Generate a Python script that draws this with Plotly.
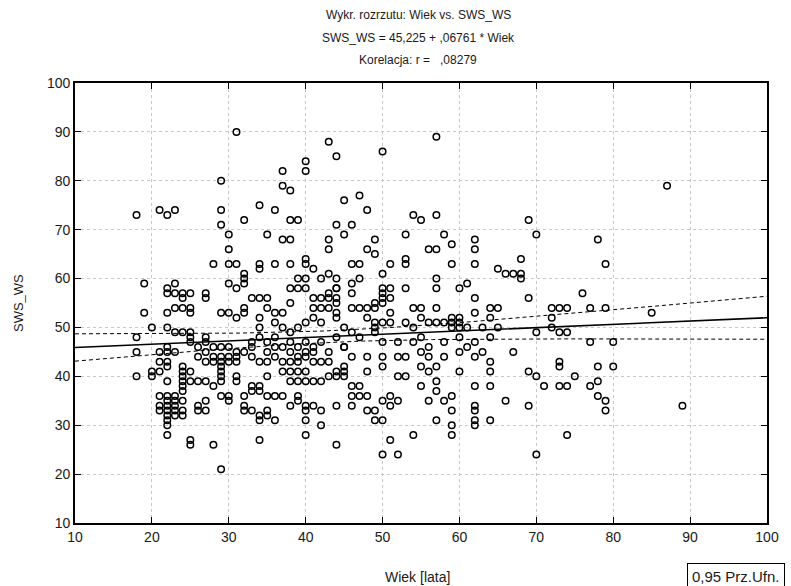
import numpy as np
import plotly.graph_objects as go

# Wiek [lata] and SWS_WS for each respondent
wiek = [
    18, 21, 22, 23, 31, 29, 29, 29, 30, 30, 32, 34, 35, 36, 37, 37, 38, 38, 39, 37, 38, 40, 40, 43, 44, 45, 44, 45, 43, 43,
    50, 57, 47, 48, 46, 49, 48, 54, 55, 57, 53, 58, 59, 56, 57, 62, 62, 69, 70,
    87, 78, 79, 76, 74, 77, 79, 72,
    85, 73, 74, 77, 80, 73, 73, 78, 80, 73, 74, 75, 77, 78, 78, 79, 79, 89, 74,
    49, 47, 50, 51, 53, 53, 59, 62, 65, 66, 67, 68, 68, 68, 44, 47, 46, 46, 44, 50, 50, 50, 50, 51, 51, 53, 57, 57, 60, 61,
    69, 46, 47, 48, 49, 49, 51, 54, 55, 57, 64, 65, 73, 48, 49, 50, 51, 53, 54, 55, 56, 57, 58, 59, 59, 60, 60, 59, 60, 61,
    64, 72, 72, 70, 45, 46, 49, 49, 55, 60, 62, 64, 45, 50, 48, 46, 50, 52, 53, 55, 56, 58, 60, 62, 67, 45,
    48, 50, 52, 53, 55, 56, 57, 60, 64, 64, 69, 70, 71, 44, 45, 46, 47, 46, 47, 48, 55, 57, 57, 59, 62, 64, 51, 44, 46, 50,
    51, 52, 56, 58, 59, 62, 62, 66, 69, 48, 49, 49, 50, 57, 64, 62, 62, 59, 59, 54, 51, 44, 50, 52, 70,
    28, 30, 31, 32, 34, 34, 36, 38, 40, 40, 41, 30, 31, 32, 32, 19, 22, 22, 23, 23, 24, 25, 24, 27, 27, 19, 22, 23, 24, 25,
    25, 29, 30, 31, 32, 32, 33, 34, 35, 35, 36, 38, 37, 34, 39, 40, 40, 39, 38, 42, 43, 43, 41, 42, 43, 41, 42, 43, 44, 44,
    44, 41, 42, 40, 39, 38, 36, 37, 34, 34, 35, 36, 33, 38, 40, 42, 43, 44, 20, 18, 18, 22, 23, 24, 25, 25, 25, 27, 27,
    18, 20, 20, 21, 22, 21, 22, 23, 22, 23, 22, 23, 21, 24, 22, 23, 24, 22, 22, 24, 24, 24, 24, 24, 24, 24, 25, 25, 25, 25,
    26, 27, 28, 29, 29, 29, 29, 29, 30, 30, 26, 27, 27, 26, 28, 29, 27, 28, 29, 30, 31, 31, 31, 32, 32, 32, 33, 34, 33, 34,
    35, 36, 37, 33, 34, 34, 35, 35, 36, 34, 35, 38, 39, 39, 40, 40, 41, 42, 40, 40, 42, 37, 38, 39, 37, 38, 39, 40, 38, 39,
    40, 41, 42, 43, 44, 45, 41, 42, 43, 34, 35, 22, 21,
    21, 22, 23, 22, 22, 22, 23, 21, 22,
    28, 29, 30, 31, 28, 29, 30, 31, 26, 26, 27, 32, 33, 35, 36, 37, 38, 39, 40, 41, 33, 36, 39, 40, 41,
    62, 62, 63, 65, 44, 44, 46, 45, 47, 52, 54, 56, 58, 61, 63,
]
sws_ws = [
    73, 74, 73, 74, 90, 80, 74, 71, 69, 66, 72, 75, 69, 74, 82, 79, 78, 72, 72, 68, 68, 84, 82, 88, 85, 76, 71, 69, 68, 66,
    86, 89, 77, 74, 71, 68, 66, 73, 72, 73, 69, 69, 67, 66, 66, 68, 66, 72, 69,
    79, 68, 63, 57, 54, 54, 54, 54,
    53, 49, 49, 47, 47, 43, 42, 42, 42, 38, 38, 40, 38, 39, 36, 35, 33, 34, 28,
    65, 63, 61, 63, 64, 63, 63, 63, 62, 61, 61, 61, 60, 64, 60, 60, 59, 57, 58, 58, 57, 56, 55, 58, 56, 58, 60, 58, 58, 59,
    56, 54, 54, 54, 54, 55, 53, 54, 54, 54, 54, 54, 54, 52, 51, 51, 51, 51, 50, 52, 51, 51, 51, 51, 52, 52, 51, 50, 50, 50,
    52, 52, 50, 49, 50, 49, 50, 49, 48, 48, 47, 48, 46, 47, 44, 44, 44, 44, 44, 45, 44, 44, 45, 44, 45, 42,
    41, 42, 40, 40, 42, 41, 42, 41, 43, 41, 41, 40, 38, 41, 41, 38, 38, 36, 36, 36, 38, 39, 37, 36, 38, 38, 36, 34, 34, 35,
    34, 35, 35, 35, 33, 34, 33, 35, 34, 33, 33, 31, 31, 31, 31, 31, 30, 30, 28, 28, 27, 26, 24, 24, 24,
    63, 63, 63, 61, 63, 62, 63, 63, 64, 63, 62, 59, 58, 59, 60, 59, 58, 57, 59, 57, 57, 57, 56, 57, 56, 53, 53, 54, 54, 53,
    54, 53, 53, 52, 54, 53, 56, 56, 56, 54, 53, 55, 53, 52, 60, 60, 58, 58, 58, 60, 61, 57, 56, 56, 56, 54, 54, 54, 58, 53,
    52, 52, 51, 51, 50, 49, 51, 50, 50, 48, 47, 48, 47, 47, 47, 47, 45, 48, 50, 48, 45, 50, 49, 49, 49, 48, 47, 48, 47,
    40, 41, 40, 41, 39, 36, 35, 35, 34, 34, 33, 33, 33, 33, 32, 32, 32, 30, 28, 42, 41, 40, 39, 38, 37, 35, 41, 39, 27, 26,
    39, 39, 38, 39, 40, 41, 42, 36, 36, 35, 34, 35, 33, 33, 26, 21, 43, 43, 43, 43, 43, 40, 39, 36, 34, 33, 38, 38, 37, 37,
    36, 36, 36, 33, 32, 31, 32, 33, 31, 27, 40, 34, 36, 35, 34, 33, 34, 33, 31, 28, 30, 43, 43, 43, 41, 41, 41, 41, 39, 39,
    39, 39, 39, 40, 40, 40, 43, 43, 43, 43, 43, 43, 43,
    45, 45, 45, 46, 42, 36, 36, 34, 31,
    46, 46, 46, 45, 44, 44, 44, 44, 46, 44, 45, 45, 44, 45, 44, 46, 45, 46, 45, 46, 46, 46, 44, 44, 45,
    56, 53, 50, 50, 55, 56, 63, 46, 48, 47, 47, 46, 47, 46, 45,
]

# Regression from the title: SWS_WS = 45,225 + ,06761 * Wiek
intercept = 45.225
slope = 0.06761
conf_level = 0.95
t_crit = 1.966

x = np.array(wiek, dtype=float)
y = np.array(sws_ws, dtype=float)
n = len(x)
x_mean = x.mean()
sxx = ((x - x_mean) ** 2).sum()
resid = y - (intercept + slope * x)
s = np.sqrt((resid ** 2).sum() / (n - 2))

xl = np.linspace(10, 100, 181)
yl = intercept + slope * xl
half = t_crit * s * np.sqrt(1.0 / n + (xl - x_mean) ** 2 / sxx)

font_main = "Liberation Sans, Arial, sans-serif"
text_color = "#1a1a1a"

fig = go.Figure()
fig.add_trace(go.Scatter(
    x=wiek, y=sws_ws, mode="markers",
    marker=dict(symbol="circle-open", size=6.5, color="black", line=dict(width=1.5, color="black")),
    showlegend=False, hoverinfo="x+y",
))
fig.add_trace(go.Scatter(x=xl, y=yl, mode="lines", line=dict(color="black", width=1.6),
                         showlegend=False, hoverinfo="skip"))
for band in (yl + half, yl - half):
    fig.add_trace(go.Scatter(x=xl, y=band, mode="lines",
                             line=dict(color="black", width=1, dash="4px,3px"),
                             showlegend=False, hoverinfo="skip"))

axis_common = dict(
    range=[10, 100], dtick=10, tick0=10,
    showline=True, linecolor="black", linewidth=1.6, mirror="allticks",
    ticks="inside", ticklen=6, tickcolor="black", tickwidth=1,
    showgrid=True, gridcolor="#c8c8c8", griddash="dot", gridwidth=1,
    zeroline=False,
    tickfont=dict(family=font_main, size=14, color=text_color),
)
fig.update_xaxes(**axis_common)
fig.update_yaxes(**axis_common)

title_lines = [
    ("Wykr. rozrzutu: Wiek vs. SWS_WS", 68),
    ("SWS_WS = 45,225 + ,06761 * Wiek", 45),
    ("Korelacja: r =   ,08279", 23),
]
annotations = []
for text, shift in title_lines:
    annotations.append(dict(
        text=text, xref="paper", yref="paper", x=0.496, y=1, xanchor="center", yanchor="middle",
        yshift=shift, showarrow=False, font=dict(family=font_main, size=12, color=text_color),
    ))
annotations.append(dict(
    text="Wiek [lata]", xref="paper", yref="paper", x=0.4955, y=0, xanchor="center", yanchor="middle",
    yshift=-54, showarrow=False, font=dict(family=font_main, size=14, color=text_color),
))
annotations.append(dict(
    text="SWS_WS", xref="paper", yref="paper", x=0, y=0.5, xanchor="center", yanchor="middle",
    xshift=-57, textangle=-90, showarrow=False, font=dict(family=font_main, size=13, color=text_color),
))
annotations.append(dict(
    text="%s Prz.Ufn." % f"{conf_level:.2f}".replace(".", ","),
    xref="paper", yref="paper", x=(693 - 75) / 699, y=0, xanchor="left", yanchor="top",
    yshift=-40, showarrow=False,
    bordercolor="black", borderwidth=1, borderpad=4, bgcolor="white",
    font=dict(family=font_main, size=15, color=text_color),
))

fig.update_layout(
    width=791, height=586,
    margin=dict(l=75, r=17, t=83, b=63),
    paper_bgcolor="white", plot_bgcolor="white",
    annotations=annotations,
    showlegend=False,
)

fig.write_html("out.html")
